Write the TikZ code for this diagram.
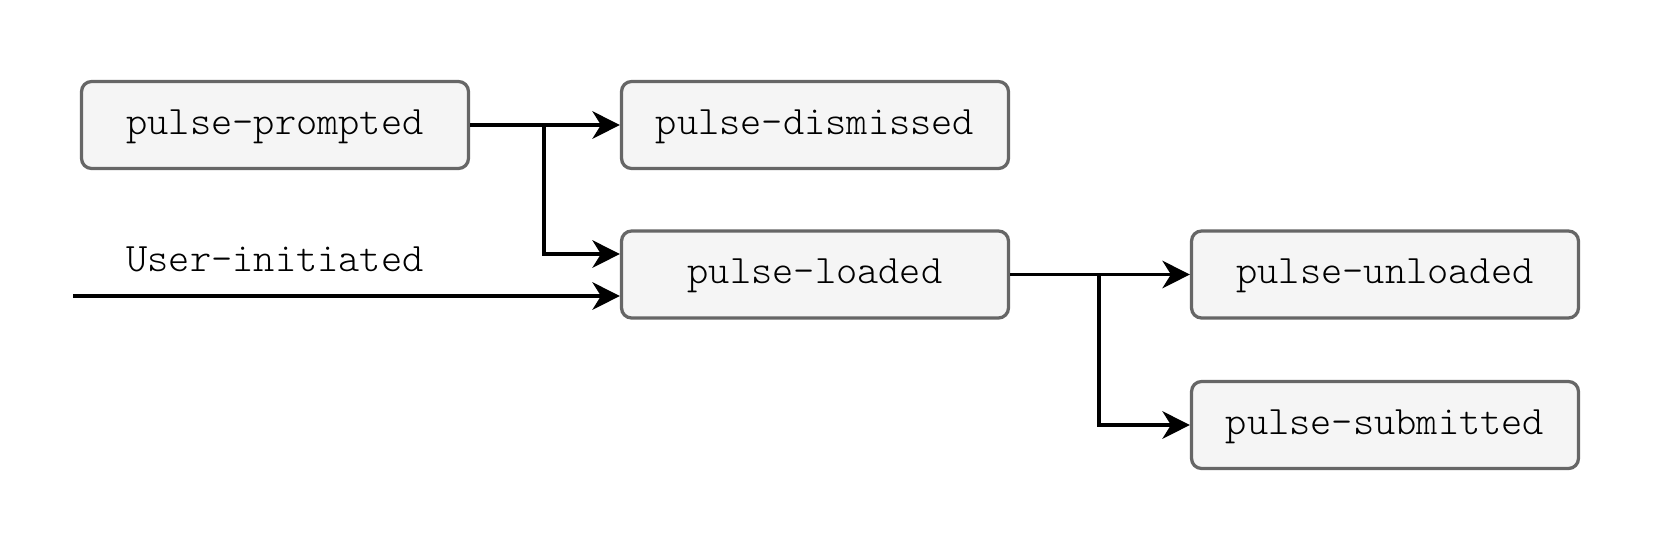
\documentclass[tikz,border=0pt]{standalone}
\usepackage{fontspec}
\newfontfamily\lightmono{Latin Modern Mono Light}
\usetikzlibrary{arrows.meta}
\definecolor{boxgray}{HTML}{F5F5F5}
\definecolor{linegray}{HTML}{666666}

\begin{document}
\begin{tikzpicture}[x=0.02cm, y=-0.02cm]
        % ================= 样式定义 =================
        \tikzset{
            statebox/.style={rectangle, rounded corners=0.2cm, draw=linegray, line width=0.065cm,
                fill=boxgray, minimum width=7.74cm, minimum height=1.74cm, inner sep=0pt,
                text height=14.3pt, text depth=3.7pt,
                font=\lightmono\fontsize{23}{27}\selectfont},
            flow/.style={line width=0.065cm, black,
                -{Stealth[length=0.55cm, width=0.55cm, inset=0.17cm]}},
            flowlabel/.style={font=\lightmono\fontsize{23}{27}\selectfont, inner sep=0pt, anchor=base}
        }

        \useasboundingbox (0,0) rectangle (1670,556);

        % ================= 状态节点 =================
        \node[statebox] (prompted)  at (275,125)   {pulse-prompted};
        \node[statebox] (dismissed) at (815,125)   {pulse-dismissed};
        \node[statebox] (loaded)    at (815,274.5) {pulse-loaded};
        \node[statebox] (unloaded)  at (1385,274.5) {pulse-unloaded};
        \node[statebox] (submitted) at (1385,425)  {pulse-submitted};

        % 外部入口
        \coordinate (entry) at (73,296);
        \node[flowlabel] (user) at (275,271) {User-initiated};

        % 分叉点
        \coordinate (fork1) at (544,125);
        \coordinate (fork2) at (1099,274.5);

        % ================= 连线 =================
        \draw[flow] (prompted.east) -- (dismissed.west);
        \draw[flow] (fork1) |- ([yshift=0.41cm]loaded.west);
        \draw[flow] (entry) -- (entry -| loaded.west);

        \draw[flow] (loaded.east) -- (unloaded.west);
        \draw[flow] (fork2) |- (submitted.west);

    \end{tikzpicture}
\end{document}
